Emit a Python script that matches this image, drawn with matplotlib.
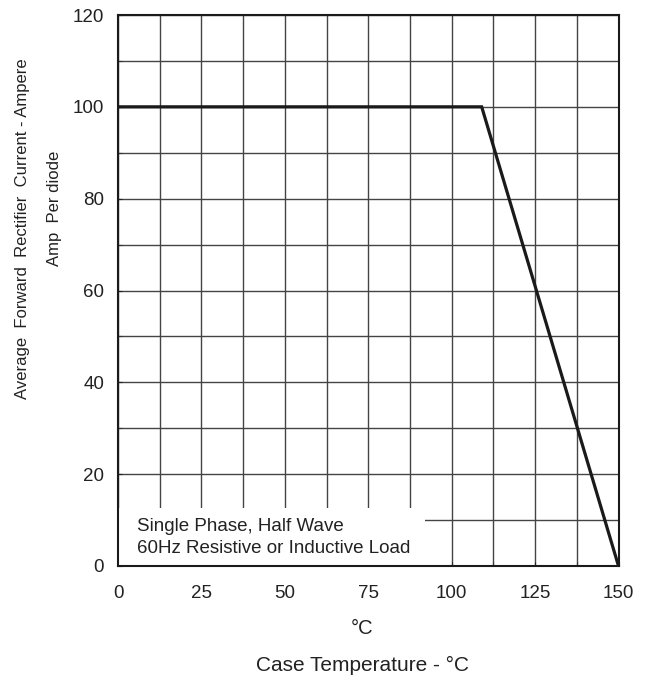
# derating curve: forward current vs case temperature
import matplotlib.pyplot as plt
from matplotlib.patches import Rectangle
import numpy as np

plt.rcParams['font.family'] = ['Liberation Sans', 'DejaVu Sans']

# data
temp = [0, 109, 150]
current = [100, 100, 0]
x_ticks = [0, 25, 50, 75, 100, 125, 150]
y_ticks = [0, 20, 40, 60, 80, 100, 120]
note = 'Single Phase, Half Wave\n60Hz Resistive or Inductive Load'

fig = plt.figure(figsize=(6.49, 6.79), dpi=100)
ax = fig.add_axes([118/649, 1-566/679, 500.5/649, 551/679])

# curve
ax.plot(temp, current, color='#1a1a1a', lw=2.3, solid_capstyle='butt',
        solid_joinstyle='miter', zorder=4)

# axes limit
ax.set_xlim(0, 150)
ax.set_ylim(0, 120)

# major and minor ticks
ax.set_xticks(x_ticks)
ax.set_yticks(y_ticks)
ax.set_xticks(np.arange(12.5, 150, 25), minor=True)
ax.set_yticks(np.arange(10, 120, 20), minor=True)
ax.tick_params(which='both', direction='in', length=3, width=0.8,
               color='#333333', top=False, right=False)
ax.tick_params(axis='x', labelsize=13.5, pad=14, colors='#222222')
ax.tick_params(axis='y', labelsize=13.5, pad=10, colors='#222222')

# grid
ax.grid(True, which='both', color='#444444', lw=1.0, zorder=1)
ax.set_axisbelow(True)
for s in ax.spines.values():
    s.set_linewidth(1.5)
    s.set_color('#1a1a1a')
    s.set_zorder(5)

# note box covering the grid
ax.add_patch(Rectangle((0, 0), 92, 12.6, facecolor='white', edgecolor='none',
                       zorder=2))
ax.text(5.7, 6.2, note, fontsize=13.5, color='#222222', va='center',
        ha='left', linespacing=1.45, zorder=3)

# axes labels
fig.text(23/649, 1-229/679, 'Average  Forward  Rectifier  Current - Ampere',
         rotation=90, ha='center', va='center', fontsize=12, color='#222222')
fig.text(55/649, 1-208/679, 'Amp  Per diode', rotation=90, ha='center',
         va='center', fontsize=12, color='#222222')
fig.text(362/649, 1-628/679, '°C', ha='center', va='center', fontsize=14.5,
         color='#222222')
fig.text(362/649, 1-665/679, 'Case Temperature - °C', ha='center',
         va='center', fontsize=15, color='#222222')

plt.savefig('out.png', dpi=100)
